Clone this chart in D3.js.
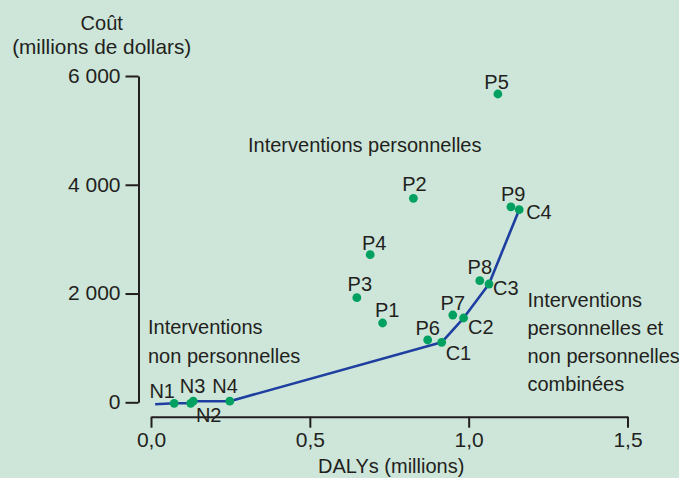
<!DOCTYPE html>
<html><head><meta charset="utf-8">
<script src="https://cdn.jsdelivr.net/npm/d3@7"></script>
<style>
html,body{margin:0;padding:0;background:#cde6d9;}
svg{display:block;font-family:"Liberation Sans",Arial,sans-serif;}
</style></head>
<body>
<svg id="chart" width="679" height="478"></svg>
<script>
// ---- data ----
const personalNames = ["P1","P2","P3","P4","P5","P6","P7","P8","P9"];
const personalDalys = [0.729,0.826,0.648,0.690,1.092,0.871,0.950,1.035,1.133];
const personalCost  = [1458,3751,1923,2714,5669,1146,1605,2236,3594];

const nonPersonalNames = ["N1","N2","N3","N4"];
const nonPersonalDalys = [0.073,0.125,0.133,0.248];
const nonPersonalCost  = [-18,-18,20,20];

const combinedNames = ["C1","C2","C3","C4"];
const combinedDalys = [0.915,0.984,1.064,1.159];
const combinedCost  = [1103,1550,2175,3542];

const frontierStart = {dalys:0.013, cost:-37};

const xTickValues = [0,0.5,1.0,1.5];
const xTickLabels = ["0,0","0,5","1,0","1,5"];
const yTickValues = [0,2000,4000,6000];
const yTickLabels = ["0","2 000","4 000","6 000"];

const yTitle = ["Coût","(millions de dollars)"];
const xTitle = "DALYs (millions)";
const noteTop = ["Interventions personnelles"];
const noteLeft = ["Interventions","non personnelles"];
const noteRight = ["Interventions","personnelles et","non personnelles","combinées"];

// ---- drawing ----
const svg = d3.select("#chart");
const ink = "#231f20", green = "#00a160", blue = "#1e3fa0";

const x = d3.scaleLinear().domain([0,1.5]).range([151,627.5]);
const y = d3.scaleLinear().domain([0,6000]).range([402.3,76]);

// y axis
const yAxis = svg.append("g").attr("transform","translate(138.5,0)")
  .call(d3.axisLeft(y).tickValues(yTickValues).tickSize(13).tickSizeOuter(0)
        .tickPadding(5).tickFormat((d,i)=>yTickLabels[i]));
yAxis.select(".domain").attr("stroke",ink).attr("stroke-width",2);
yAxis.selectAll(".tick line").attr("stroke",ink).attr("stroke-width",2);
yAxis.selectAll(".tick text").attr("fill",ink).attr("font-size",21)
  .attr("font-family","'Liberation Sans',Arial,sans-serif").attr("dy","0.3em");

// x axis
const xAxis = svg.append("g").attr("transform","translate(0,416.7)")
  .call(d3.axisBottom(x).tickValues(xTickValues).tickSize(11).tickSizeOuter(0)
        .tickPadding(5).tickFormat((d,i)=>xTickLabels[i]));
xAxis.select(".domain").attr("stroke",ink).attr("stroke-width",2);
xAxis.selectAll(".tick line").attr("stroke",ink).attr("stroke-width",2);
xAxis.selectAll(".tick text").attr("fill",ink).attr("font-size",21)
  .attr("font-family","'Liberation Sans',Arial,sans-serif").attr("y",30).attr("dy",0);

// titles
svg.append("g").selectAll("text").data(yTitle).join("text")
  .attr("x",101.7).attr("y",(d,i)=>29.5+i*24).attr("text-anchor","middle")
  .attr("font-size",(d,i)=>i===1?20.8:20).attr("fill",ink).text(d=>d);
svg.append("text").attr("x",318).attr("y",472.5).attr("font-size",20).attr("fill",ink).text(xTitle);

// notes
function note(lines,x0,y0,lh){
  svg.append("g").selectAll("text").data(lines).join("text")
    .attr("x",x0).attr("y",(d,i)=>y0+i*lh).attr("font-size",20).attr("fill",ink).text(d=>d);
}
note(noteTop,248,151.5,28);
note(noteLeft,148,334,28.5);
note(noteRight,527.5,307,28);

// frontier line
const frontier = [frontierStart]
  .concat(nonPersonalNames.map((n,i)=>({dalys:nonPersonalDalys[i],cost:nonPersonalCost[i]})))
  .concat(combinedNames.map((n,i)=>({dalys:combinedDalys[i],cost:combinedCost[i]})));
svg.append("path").datum(frontier)
  .attr("d",d3.line().x(d=>x(d.dalys)).y(d=>y(d.cost)))
  .attr("fill","none").attr("stroke",blue).attr("stroke-width",2.6).attr("stroke-linejoin","round");

// points
const pts = [];
personalNames.forEach((n,i)=>pts.push({name:n,dalys:personalDalys[i],cost:personalCost[i]}));
nonPersonalNames.forEach((n,i)=>pts.push({name:n,dalys:nonPersonalDalys[i],cost:nonPersonalCost[i]}));
combinedNames.forEach((n,i)=>pts.push({name:n,dalys:combinedDalys[i],cost:combinedCost[i]}));

svg.append("g").selectAll("circle").data(pts).join("circle")
  .attr("cx",d=>x(d.dalys)).attr("cy",d=>y(d.cost)).attr("r",4.4).attr("fill",green);

// label placement (style): [dx, dy, anchor]
const place = {
  P1:[4.7,-6,"middle"],P2:[1,-7,"middle"],P3:[3,-7,"middle"],P4:[4,-5,"middle"],P5:[-1.3,-5,"middle"],
  P6:[0,-5,"middle"],P7:[0,-5,"middle"],P8:[0,-7,"middle"],P9:[2.3,-6,"middle"],
  N1:[-12,-5,"middle"],N2:[18,18.5,"middle"],N3:[-0.6,-8,"middle"],N4:[-4.7,-8,"middle"],
  C1:[4,18,"start"],C2:[4.5,16,"start"],C3:[4,11,"start"],C4:[7,9,"start"]
};
svg.append("g").selectAll("text").data(pts).join("text")
  .attr("x",d=>x(d.dalys)+place[d.name][0]).attr("y",d=>y(d.cost)+place[d.name][1])
  .attr("text-anchor",d=>place[d.name][2]).attr("font-size",20).attr("fill",ink).text(d=>d.name);
</script>
</body></html>
